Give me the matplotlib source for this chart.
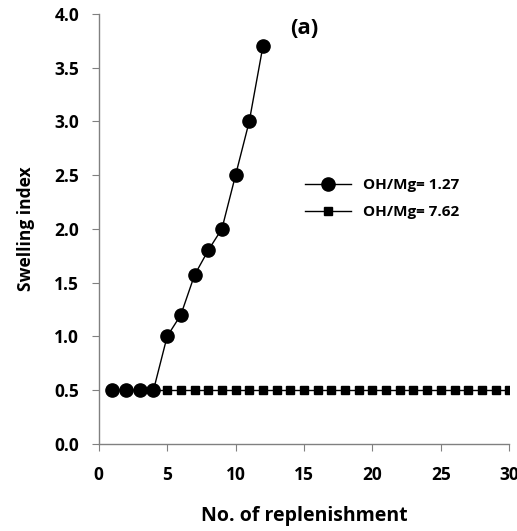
import matplotlib
matplotlib.use("Agg")
import matplotlib.pyplot as plt

plt.rcParams['font.family'] = ['Open Sans', 'DejaVu Sans']

# données
x_127 = [1, 2, 3, 4, 5, 6, 7, 8, 9, 10, 11, 12]
y_127 = [0.5, 0.5, 0.5, 0.5, 1.0, 1.2, 1.57, 1.8, 2.0, 2.5, 3.0, 3.7]
x_762 = list(range(1, 31))
y_762 = [0.5] * 30
label_127 = "OH/Mg= 1.27"
label_762 = "OH/Mg= 7.62"

fig = plt.figure(figsize=(5.17, 5.31), dpi=100)
ax = fig.add_axes([0.191, 0.164, 0.794, 0.810])

ax.plot(x_762, y_762, '-s', color='black', lw=1, markersize=6, label=label_762, zorder=2)
ax.plot(x_127, y_127, '-o', color='black', lw=1, markersize=9.5, label=label_127, zorder=3)

ax.set_xlim(0, 30)
ax.set_ylim(0, 4.0)
ax.set_xticks(range(0, 31, 5))
ax.set_yticks([i * 0.5 for i in range(9)])
ax.set_yticklabels([f"{i * 0.5:.1f}" for i in range(9)])

for s in ['top', 'right']:
    ax.spines[s].set_visible(False)
for s in ['left', 'bottom']:
    ax.spines[s].set_color('#808080')
    ax.spines[s].set_linewidth(1)
ax.tick_params(direction='out', length=5, color='#808080', labelsize=12.5)
ax.tick_params(axis='y', pad=9)
ax.tick_params(axis='x', pad=11)
for lab in ax.get_xticklabels() + ax.get_yticklabels():
    lab.set_fontweight('bold')

ax.set_xlabel("No. of replenishment", fontsize=14, fontweight='bold', labelpad=16)
ax.set_ylabel("Swelling index", fontsize=12.5, fontweight='bold', labelpad=14)
ax.text(0.50, 0.965, "(a)", transform=ax.transAxes, fontsize=16, fontweight='bold',
        ha='center', va='center')

handles, labels = ax.get_legend_handles_labels()
leg = ax.legend(handles[::-1], labels[::-1], loc='upper left', bbox_to_anchor=(0.47, 0.65),
                frameon=False, prop={'weight': 'bold', 'size': 11}, handlelength=3,
                labelspacing=0.85)

fig.savefig("out.png", dpi=100)
